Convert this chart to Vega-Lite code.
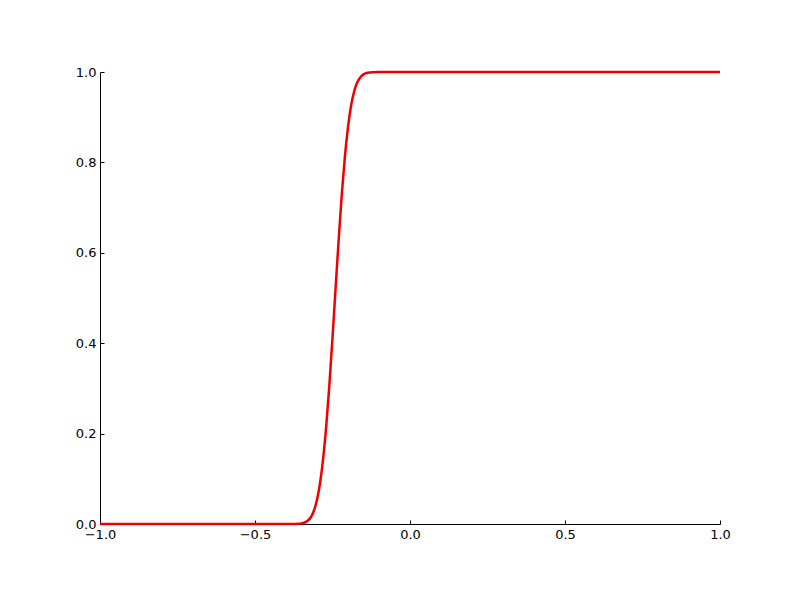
{
  "$schema": "https://vega.github.io/schema/vega-lite/v6.json",
  "width": 620,
  "height": 452,
  "autosize": {"type": "none"},
  "padding": {"left": 100, "top": 72, "right": 80, "bottom": 76},
  "background": "white",
  "config": {"view": {"stroke": null}},
  "data": {"values": [
    {"x": -1.0, "y": 0.0},
    {"x": -0.5, "y": 0.0},
    {"x": -0.4, "y": 0.00001},
    {"x": -0.38, "y": 0.00006},
    {"x": -0.36, "y": 0.0005},
    {"x": -0.35, "y": 0.00135},
    {"x": -0.34, "y": 0.0033},
    {"x": -0.33, "y": 0.0073},
    {"x": -0.32, "y": 0.015},
    {"x": -0.31, "y": 0.0294},
    {"x": -0.30, "y": 0.0537},
    {"x": -0.29, "y": 0.0912},
    {"x": -0.28, "y": 0.1455},
    {"x": -0.27, "y": 0.218},
    {"x": -0.26, "y": 0.3085},
    {"x": -0.25, "y": 0.412},
    {"x": -0.24, "y": 0.522},
    {"x": -0.23, "y": 0.63},
    {"x": -0.22, "y": 0.7294},
    {"x": -0.21, "y": 0.813},
    {"x": -0.20, "y": 0.878},
    {"x": -0.19, "y": 0.9257},
    {"x": -0.18, "y": 0.9575},
    {"x": -0.17, "y": 0.9772},
    {"x": -0.16, "y": 0.9886},
    {"x": -0.15, "y": 0.9947},
    {"x": -0.14, "y": 0.9977},
    {"x": -0.13, "y": 0.9991},
    {"x": -0.12, "y": 0.99965},
    {"x": -0.10, "y": 1.0},
    {"x": 0.0, "y": 1.0},
    {"x": 1.0, "y": 1.0}
  ]},
  "mark": {"type": "line", "color": "#ee0000", "strokeWidth": 2.5, "interpolate": "monotone"},
  "encoding": {
    "x": {
      "field": "x", "type": "quantitative",
      "scale": {"domain": [-1, 1], "nice": false, "zero": false},
      "axis": {
        "title": null, "values": [-1, -0.5, 0, 0.5, 1], "format": ".1f",
        "grid": false, "domainColor": "black", "tickColor": "black",
        "tickSize": -4, "labelPadding": 8, "labelFont": "DejaVu Sans",
        "labelFontSize": 13, "labelColor": "black", "labelFlush": false
      }
    },
    "y": {
      "field": "y", "type": "quantitative",
      "scale": {"domain": [0, 1], "nice": false},
      "axis": {
        "title": null, "values": [0, 0.2, 0.4, 0.6, 0.8, 1.0], "format": ".1f",
        "grid": false, "domainColor": "black", "tickColor": "black",
        "tickSize": -4, "labelPadding": 8, "labelFont": "DejaVu Sans",
        "labelFontSize": 13, "labelColor": "black", "labelFlush": false
      }
    }
  }
}
